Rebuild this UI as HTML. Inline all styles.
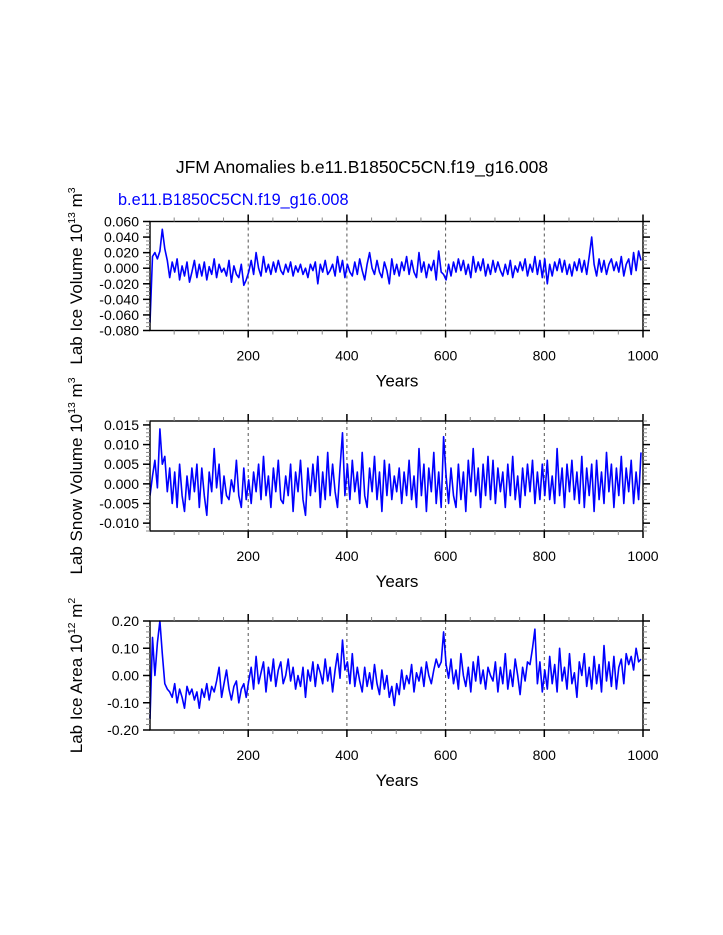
<!DOCTYPE html>
<html><head><meta charset="utf-8"><style>
html,body{margin:0;padding:0;background:#fff;}
svg{display:block;font-family:"Liberation Sans",Helvetica,Arial,sans-serif;}
</style></head><body>
<svg id="chart" width="723" height="935" viewBox="0 0 723 935" xmlns="http://www.w3.org/2000/svg">
<text x="362" y="173" font-size="17.5" text-anchor="middle">JFM Anomalies b.e11.B1850C5CN.f19_g16.008</text>
<text x="118" y="205" font-size="16.3" fill="#0000ff">b.e11.B1850C5CN.f19_g16.008</text>
</svg>
<script>
const yearStep = 5;
const iceVolume = [-70,15,20,12,22,50,25,10,-12,8,-5,12,-15,3,-10,8,-18,-5,10,-12,
5,-10,8,-15,2,-8,12,-12,5,-5,0,-10,10,-18,3,-8,-12,5,-22,-15,
-5,10,-8,20,0,-10,15,-5,5,-8,8,-5,10,-3,-8,5,-5,8,-10,3,
-5,5,-8,0,-12,5,-3,8,-20,5,-5,10,-8,-3,5,-10,15,-5,10,-12,
5,-5,-10,8,-8,12,-3,-15,5,20,0,-8,10,-5,-12,8,-3,-20,12,-8,
5,-10,8,-3,15,-8,10,-5,-12,20,-5,8,-12,5,-3,10,-15,22,-5,-8,
-15,5,-10,8,-5,12,-3,10,-8,5,-12,15,-5,8,-3,12,-10,5,-8,10,
-5,8,-3,-10,5,-8,10,-12,3,-5,8,-3,12,-10,5,-5,15,-8,10,-12,
12,-20,5,-10,8,-3,12,-5,10,-8,5,-10,8,-3,12,-5,10,-8,15,40,
5,-10,12,-5,10,-8,5,12,-3,8,-5,15,-10,5,12,-8,20,-3,22,10].map(v=>v*0.001);
const snowVolume = [-30,20,60,-10,140,50,70,-20,40,-50,30,-60,50,-30,-70,20,-40,40,-20,50,
-60,40,-30,-80,30,-20,90,-10,50,-50,20,-30,-40,10,-20,60,-30,-60,40,-40,
10,-50,30,-20,50,-40,70,-30,20,-60,40,-20,60,-40,-50,20,-30,50,-70,30,
-20,60,-40,-80,40,-30,50,-20,70,-60,30,-40,80,-30,50,-20,-60,40,130,-30,
50,-40,60,-20,30,-50,80,-30,-60,40,-20,70,-40,30,-70,60,-30,50,-40,20,
-20,40,-50,30,-30,60,-40,20,-60,90,-30,50,-70,40,-20,80,-50,30,-60,120,
20,-50,40,-30,-60,50,-40,30,-70,60,-20,90,-30,40,-60,50,-30,70,-40,60,
-50,40,-20,30,-60,50,-30,70,-40,20,-60,40,-30,50,-20,60,-50,30,-40,50,
-30,60,-40,20,-50,90,-30,40,-60,50,-20,60,-40,30,-50,70,-60,40,-30,50,
-70,60,-40,30,-50,80,-20,50,-60,40,-30,70,-50,40,-20,60,-50,30,-40,80].map(v=>v*0.0001);
const iceArea = [-16,14,0,12,20,8,-3,-5,-6,-8,-3,-10,-5,-8,-12,-4,-7,-5,-9,-6,
-12,-5,-8,-3,-9,-4,-6,-2,3,-8,-3,2,-5,-9,-4,-2,-10,-5,-3,-8,
-2,3,-5,7,-3,1,5,-6,3,-2,6,-4,2,5,-3,0,6,-2,3,-5,
0,-4,3,-8,2,-2,5,-4,4,1,-3,6,-2,3,-6,2,8,-1,13,2,
5,-3,8,-4,3,-2,-6,3,-4,1,-5,4,-3,-7,2,-5,0,-8,-4,-11,
-3,-7,2,-5,0,-3,4,-6,1,-2,3,-4,5,0,-3,2,6,3,5,16,
4,-1,6,-3,2,-5,8,0,-4,3,-6,5,-2,7,-3,2,-5,3,0,-2,
5,-6,3,-3,8,-5,2,-4,6,0,-7,3,-2,5,4,10,17,-3,5,-6,
2,-5,7,-3,4,-6,10,-2,3,-5,8,-3,1,-8,5,0,8,-4,3,-5,
7,-3,4,-6,11,-2,5,-4,7,-5,3,6,-3,8,4,7,2,10,5,6].map(v=>v*0.01);
const xTickLabels = [200,400,600,800,1000];
const iceVolTicks = [0.06,0.04,0.02,0,-0.02,-0.04,-0.06,-0.08];
const snowTicks = [0.015,0.01,0.005,0,-0.005,-0.01];
const areaTicks = [0.2,0.1,0,-0.1,-0.2];

const NS="http://www.w3.org/2000/svg";
const svg=document.getElementById('chart');
function mk(tag,attrs,parent){const e=document.createElementNS(NS,tag);for(const k in attrs)e.setAttribute(k,attrs[k]);(parent||svg).appendChild(e);return e;}

const X0=150,X1=643,XMIN=1,XMAX=1000;
const xs=v=>X0+(v-XMIN)/(XMAX-XMIN)*(X1-X0);

function panel(name,top,bottom,ymin,ymax,ticks,minorStep,dec,series,titleMain,exp,unitExp){
  const g=mk('g',{});
  
  
  const ys=v=>bottom-(v-ymin)/(ymax-ymin)*(bottom-top);
  xTickLabels.slice(0,4).forEach(v=>{
    const l=mk('line',{x1:xs(v),x2:xs(v),y1:top,y2:bottom,stroke:'#555','stroke-width':1,'stroke-dasharray':'3,3'},g);
    
    
  });
  let d='';
  series.forEach((v,i)=>{const yr=XMIN+i*yearStep;d+=(i?'L':'M')+xs(yr).toFixed(1)+','+ys(v).toFixed(1);});
  const p=mk('path',{d:d,fill:'none',stroke:'#0000ff','stroke-width':1.6,'stroke-linejoin':'round'},g);
  
  
  const r=mk('rect',{x:X0,y:top,width:X1-X0,height:bottom-top,fill:'none',stroke:'#000','stroke-width':1.4},g);
  
  
  for(let v=50;v<=1000;v+=50){
    const maj=v%200===0;const L=maj?7:4;const c=maj?'#000':'#888';
    mk('line',{x1:xs(v),x2:xs(v),y1:top,y2:top-L,stroke:c,'stroke-width':maj?1.5:1},g);
    mk('line',{x1:xs(v),x2:xs(v),y1:bottom,y2:bottom+L,stroke:c,'stroke-width':maj?1.5:1},g);
  }
  xTickLabels.forEach(v=>{
    const t=mk('text',{x:xs(v),y:bottom+30,'font-size':14,'text-anchor':'middle'},g);
    
    
    t.textContent=v;
  });
  const xt=mk('text',{x:397,y:bottom+56,'font-size':17,'text-anchor':'middle'},g);
  
  
  xt.textContent='Years';
  for(let v=ymin;v<=ymax+1e-9;v+=minorStep){
    mk('line',{x1:X0,x2:X0-4,y1:ys(v),y2:ys(v),stroke:'#888'},g);
    mk('line',{x1:X1,x2:X1+4,y1:ys(v),y2:ys(v),stroke:'#888'},g);
  }
  ticks.forEach(v=>{
    mk('line',{x1:X0,x2:X0-7,y1:ys(v),y2:ys(v),stroke:'#000','stroke-width':1.5},g);
    mk('line',{x1:X1,x2:X1+7,y1:ys(v),y2:ys(v),stroke:'#000','stroke-width':1.5},g);
    const t=mk('text',{x:X0-11,y:ys(v)+5,'font-size':14,'text-anchor':'end'},g);
    
    
    t.textContent=v.toFixed(dec);
  });
  const cy=(top+bottom)/2;
  const yt=mk('text',{x:0,y:0,'font-size':17,'text-anchor':'middle',transform:`translate(82,${cy}) rotate(-90)`},g);
  
  
  yt.innerHTML=`${titleMain} 10<tspan font-size="10.5" dy="-7">${exp}</tspan><tspan dy="7"> m</tspan><tspan font-size="10.5" dy="-7">${unitExp}</tspan>`;
}
panel('ice-volume',221.5,330.5,-0.08,0.06,iceVolTicks,0.005,3,iceVolume,'Lab Ice Volume','13','3');
panel('snow-volume',421,531,-0.012,0.016,snowTicks,0.001,3,snowVolume,'Lab Snow Volume','13','3');
panel('ice-area',621,730,-0.2,0.2,areaTicks,0.02,2,iceArea,'Lab Ice Area','12','2');
</script>
</body></html>
